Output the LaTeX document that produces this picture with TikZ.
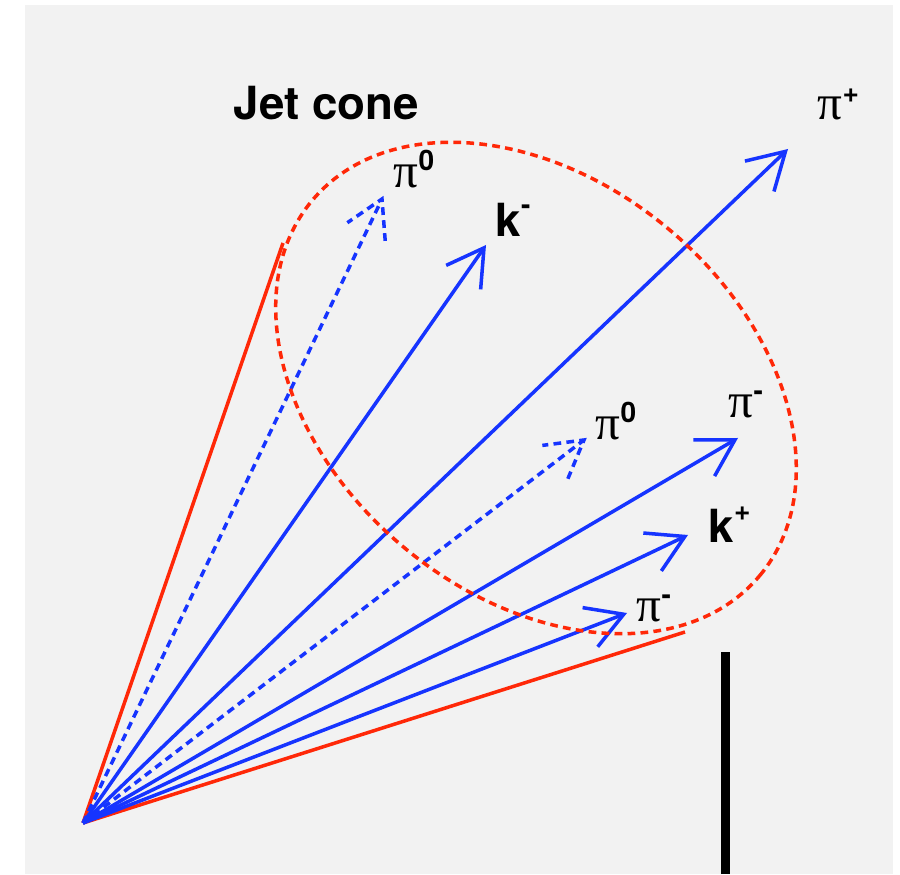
\documentclass[tikz,border=0pt]{standalone}
\usepackage{fontspec}
\setsansfont{TeX Gyre Heros}
\newfontfamily\greekfont{Liberation Serif}
\usetikzlibrary{arrows.meta,calc}

\definecolor{coneRed}{RGB}{255,40,8}
\definecolor{trackBlue}{RGB}{22,52,255}
\definecolor{padGray}{RGB}{242,242,242}

\newcommand{\pion}[1]{{\greekfont\fontsize{14}{16}\selectfont π}\raisebox{5pt}{\fontsize{8}{9}\selectfont\sffamily\bfseries #1}}
\newcommand{\kaon}[1]{{\sffamily\bfseries k}\raisebox{6.5pt}{\fontsize{8}{9}\selectfont\sffamily\bfseries #1}}

\begin{document}
\begin{tikzpicture}[
  font=\fontsize{13}{15}\selectfont,
  >={Straight Barb[length=3.6mm,width=4.2mm]},
  track/.style={->, line width=1pt, trackBlue},
  neutral/.style={line width=1pt, trackBlue, dash pattern=on 2.2pt off 1.5pt},
  conebound/.style={line width=1pt, coneRed, dash pattern=on 2.2pt off 1.5pt},
  coneedge/.style={line width=1pt, coneRed},
  plabel/.style={anchor=base west, inner sep=0pt}
]
\useasboundingbox (0,0) rectangle (9,8.74);
\fill[padGray] (0.25,0) rectangle (8.93,8.69);

% vertex and cone
\coordinate (O) at (0.83,0.51);
\coordinate (cL) at (2.83,6.31);
\coordinate (cR) at (6.85,2.42);
\draw[coneedge] (O) -- (cL);
\draw[coneedge] (O) -- (cR);

% particle tips
\coordinate (zA) at (3.82,6.75);
\coordinate (kM) at (4.86,6.29);
\coordinate (pP) at (7.88,7.25);
\coordinate (zB) at (5.84,4.34);
\coordinate (pMa) at (7.38,4.36);
\coordinate (kP) at (6.88,3.39);
\coordinate (pMb) at (6.27,2.61);

\draw[track] (O) -- (kM);
\draw[track] (O) -- (pP);
\draw[track] (O) -- (pMa);
\draw[track] (O) -- (kP);
\draw[track] (O) -- (pMb);
\draw[neutral] (O) -- (zA);
\draw[neutral] ($(zA)!4.2mm!30:(O)$) -- (zA) -- ($(zA)!4.2mm!-30:(O)$);
\draw[neutral] (O) -- (zB);
\draw[neutral] ($(zB)!4.2mm!30:(O)$) -- (zB) -- ($(zB)!4.2mm!-30:(O)$);

\draw[conebound, rotate around={-40:(5.36,4.86)}] (5.36,4.86) ellipse (2.92 and 2.07);

% labels
\node[plabel, font=\fontsize{13}{15}\selectfont\sffamily\bfseries] (title) at (2.33,7.54) {Jet cone};
\node[plabel] (lzA) at (3.93,6.86) {\pion{0}};
\node[plabel] (lkM) at (4.95,6.37) {\kaon{-}};
\node[plabel] (lpP) at (8.17,7.54) {\pion{+}};
\node[plabel] (lzB) at (5.95,4.34) {\pion{0}};
\node[plabel] (lpMa) at (7.28,4.56) {\pion{-}};
\node[plabel] (lkP) at (7.08,3.31) {\kaon{+}};
\node[plabel] (lpMb) at (6.36,2.52) {\pion{-}};

\draw[line width=0.09cm] (7.255,0) -- (7.255,2.22);
\end{tikzpicture}
\end{document}
